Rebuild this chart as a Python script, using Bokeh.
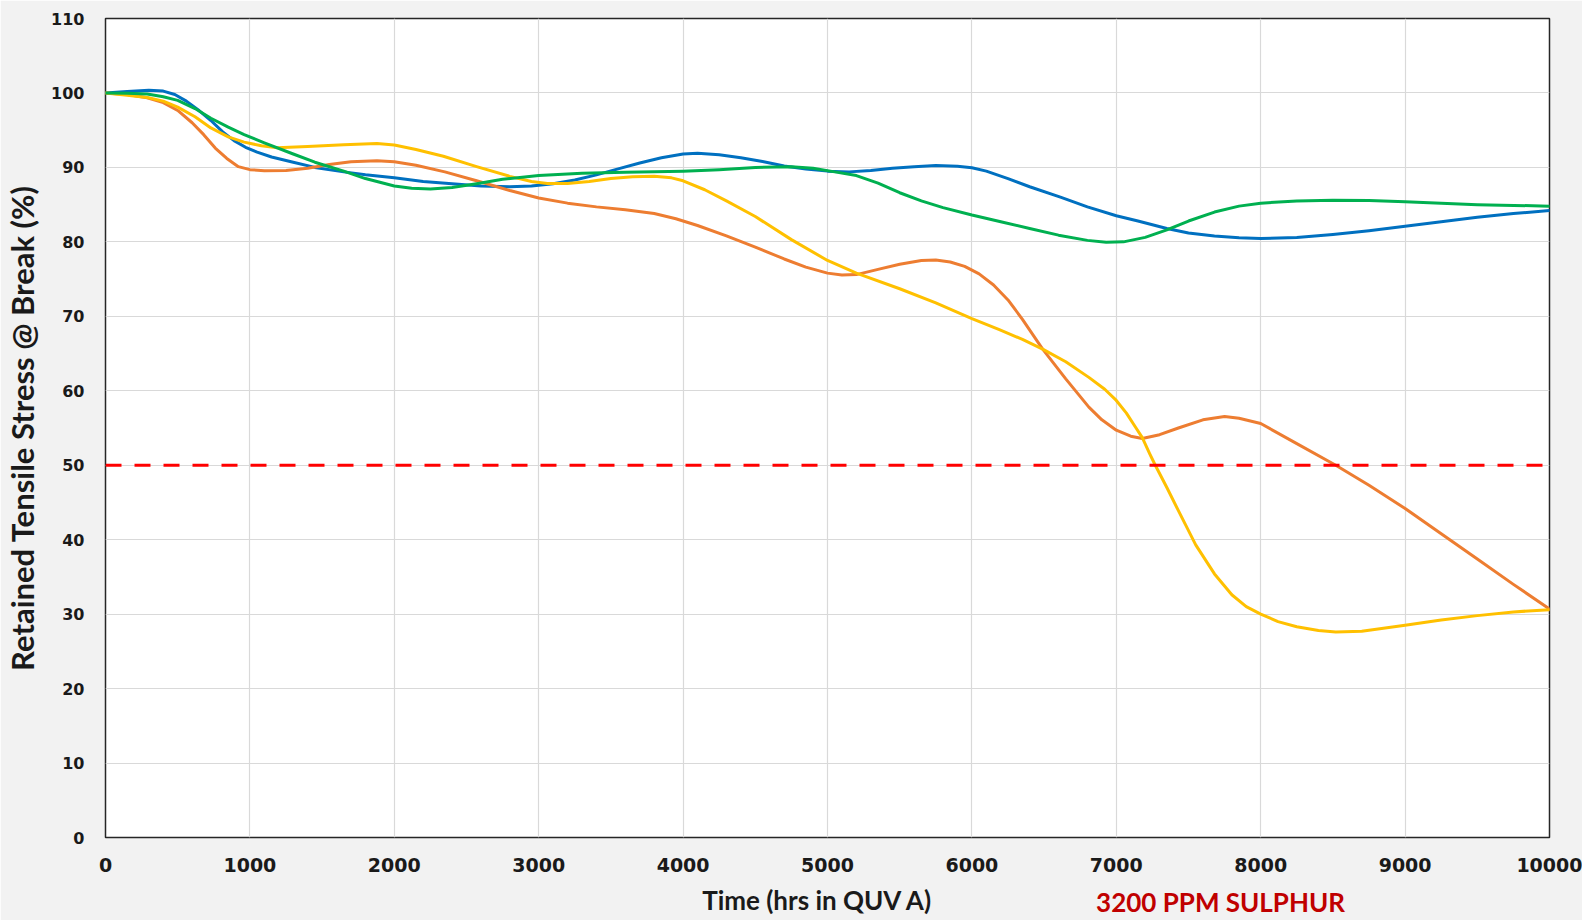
from bokeh.plotting import figure
from bokeh.models import Range1d, FixedTicker, Span, LinearAxis
from bokeh.embed import file_html
from bokeh.resources import INLINE

# ---------------- data ----------------
X_TICKS = [0, 1000, 2000, 3000, 4000, 5000, 6000, 7000, 8000, 9000, 10000]
Y_TICKS = [0, 10, 20, 30, 40, 50, 60, 70, 80, 90, 100, 110]
THRESHOLD = 50

blue_x = [0, 150, 300, 400, 480, 560, 650, 730, 810, 890, 970, 1050, 1150, 1300, 1450, 1650, 1800,
          2000, 2200, 2400, 2600, 2800, 2950, 3100, 3250, 3400, 3550, 3700, 3850, 4000, 4100, 4250,
          4400, 4550, 4700, 4850, 5000, 5150, 5300, 5450, 5600, 5750, 5900, 6000, 6100, 6250, 6400,
          6613, 6800, 7000, 7150, 7350, 7500, 7680, 7850, 8000, 8250, 8500, 8750, 9000, 9250, 9500,
          9750, 10000]
blue_y = [100, 100.2, 100.35, 100.25, 99.8, 98.9, 97.6, 96.3, 94.8, 93.6, 92.7, 92.05, 91.4, 90.7, 90.0,
          89.4, 89.0, 88.6, 88.1, 87.8, 87.5, 87.4, 87.5, 87.8, 88.3, 89.0, 89.8, 90.6, 91.3, 91.8, 91.9,
          91.7, 91.3, 90.8, 90.2, 89.8, 89.5, 89.4, 89.6, 89.9, 90.1, 90.25, 90.15, 89.95, 89.5, 88.5,
          87.4, 86.0, 84.7, 83.5, 82.8, 81.8, 81.2, 80.8, 80.55, 80.45, 80.6, 81.0, 81.5, 82.1, 82.7,
          83.3, 83.8, 84.2]

green_x = [0, 150, 289, 400, 500, 620, 730, 850, 960, 1100, 1300, 1450, 1650, 1800, 2000, 2120, 2250,
           2400, 2570, 2750, 3000, 3300, 3600, 4000, 4250, 4500, 4750, 4900, 5050, 5200, 5350, 5500,
           5650, 5800, 6000, 6200, 6400, 6600, 6800, 6930, 7050, 7200, 7350, 7500, 7680, 7850, 8000,
           8250, 8500, 8750, 9000, 9500, 10000]
green_y = [100, 99.95, 99.85, 99.5, 99.0, 97.9, 96.6, 95.4, 94.4, 93.3, 91.8, 90.7, 89.5, 88.5, 87.5,
           87.2, 87.1, 87.3, 87.8, 88.4, 88.9, 89.2, 89.35, 89.5, 89.7, 90.0, 90.1, 89.9, 89.4, 88.9,
           87.9, 86.6, 85.5, 84.6, 83.6, 82.7, 81.8, 80.9, 80.2, 79.95, 80.0, 80.6, 81.6, 82.8, 84.0,
           84.8, 85.2, 85.5, 85.6, 85.55, 85.4, 85.0, 84.8]

orange_x = [0, 150, 289, 400, 500, 600, 680, 760, 840, 920, 1000, 1100, 1250, 1400, 1550, 1700, 1880,
            2000, 2150, 2350, 2570, 2800, 3000, 3200, 3400, 3600, 3800, 3950, 4100, 4300, 4500, 4700,
            4850, 5000, 5100, 5200, 5350, 5500, 5650, 5750, 5850, 5950, 6050, 6150, 6250, 6350, 6490,
            6650, 6810, 6900, 7000, 7100, 7180, 7300, 7430, 7600, 7750, 7850, 8000, 8250, 8520, 8750,
            9000, 9250, 9500, 9750, 10000]
orange_y = [100, 99.8, 99.35, 98.7, 97.65, 96.0, 94.4, 92.6, 91.2, 90.1, 89.7, 89.55, 89.6, 89.9, 90.4,
            90.75, 90.9, 90.75, 90.3, 89.4, 88.2, 86.9, 85.9, 85.2, 84.7, 84.3, 83.8, 83.1, 82.2, 80.8,
            79.3, 77.7, 76.6, 75.8, 75.55, 75.6, 76.3, 77.0, 77.5, 77.55, 77.3, 76.7, 75.7, 74.2, 72.2,
            69.6, 65.6, 61.6, 57.8, 56.1, 54.7, 53.9, 53.6, 54.1, 55.0, 56.1, 56.55, 56.3, 55.6, 52.9,
            50.0, 47.3, 44.2, 40.8, 37.4, 34.0, 30.7]

yellow_x = [0, 150, 289, 400, 500, 620, 730, 850, 960, 1080, 1190, 1400, 1650, 1880, 2000, 2150, 2340,
            2570, 2800, 2950, 3060, 3200, 3350, 3500, 3650, 3800, 3920, 4000, 4150, 4300, 4500, 4750,
            5000, 5200, 5500, 5750, 6000, 6190, 6350, 6490, 6650, 6810, 6920, 7000, 7070, 7130, 7180,
            7230, 7270, 7350, 7430, 7550, 7680, 7800, 7900, 8000, 8120, 8250, 8400, 8520, 8700, 9000,
            9250, 9500, 9750, 10000]
yellow_y = [100, 99.7, 99.4, 98.9, 98.1, 96.8, 95.3, 94.1, 93.4, 92.9, 92.65, 92.8, 93.05, 93.2, 93.0,
            92.4, 91.5, 90.1, 88.8, 88.1, 87.85, 87.85, 88.1, 88.5, 88.75, 88.8, 88.6, 88.2, 87.0, 85.5,
            83.4, 80.3, 77.5, 75.8, 73.7, 71.8, 69.7, 68.2, 66.9, 65.6, 63.9, 61.8, 60.2, 58.7, 57.0,
            55.2, 53.7, 51.6, 50.0, 47.0, 43.9, 39.3, 35.4, 32.6, 31.0, 30.0, 29.0, 28.3, 27.8, 27.6,
            27.7, 28.5, 29.2, 29.8, 30.3, 30.6]

X_TITLE = "Time (hrs in QUV A)"
Y_TITLE = "Retained Tensile Stress @ Break (%)"
NOTE = "3200 PPM SULPHUR"

# layout constants (positions, not data)
X_TITLE_POS = 4931
NOTE_POS = 7722

# ---------------- figure ----------------
p = figure(width=1582, height=920, output_backend="svg", toolbar_location=None,
           x_range=Range1d(0, 10000), y_range=Range1d(0, 110),
           min_border_left=105, min_border_right=33, min_border_top=18, min_border_bottom=83)
p.border_fill_color = "#F2F2F2"
p.background_fill_color = "white"
p.outline_line_color = "#262626"
p.outline_line_width = 1.5

for ax in (p.xaxis[0], p.yaxis[0]):
    ax.axis_line_color = None
    ax.major_tick_line_color = None
    ax.minor_tick_line_color = None
    ax.major_label_text_font = "DejaVu Sans"
    ax.major_label_text_font_style = "bold"
    ax.major_label_text_color = "#1a1a1a"
    ax.axis_label_text_font = "Lato"
    ax.axis_label_text_font_style = "bold"
    ax.axis_label_text_color = "#1a1a1a"

p.xaxis[0].ticker = FixedTicker(ticks=X_TICKS)
p.yaxis[0].ticker = FixedTicker(ticks=Y_TICKS)
p.xaxis[0].major_label_text_font_size = "19px"
p.yaxis[0].major_label_text_font_size = "16px"
p.xaxis[0].major_label_standoff = 14
p.yaxis[0].major_label_standoff = 15

p.yaxis[0].axis_label = Y_TITLE
p.yaxis[0].axis_label_text_font_size = "31px"
p.yaxis[0].axis_label_standoff = 7


def text_axis(pos, text, color, standoff):
    ax = LinearAxis(ticker=FixedTicker(ticks=[pos]), major_label_overrides={pos: text})
    ax.axis_line_color = None
    ax.major_tick_line_color = None
    ax.minor_tick_line_color = None
    ax.major_label_text_font = "Lato"
    ax.major_label_text_font_style = "bold"
    ax.major_label_text_font_size = "26px"
    ax.major_label_text_line_height = 1.0
    ax.major_label_text_color = color
    ax.major_label_standoff = standoff
    return ax


p.add_layout(text_axis(X_TITLE_POS, X_TITLE, "#1a1a1a", 3), "below")
p.add_layout(text_axis(NOTE_POS, NOTE, "#C00000", -39), "below")

p.xgrid.ticker = FixedTicker(ticks=X_TICKS)
p.ygrid.ticker = FixedTicker(ticks=Y_TICKS)
p.xgrid.grid_line_color = "#D9D9D9"
p.ygrid.grid_line_color = "#D9D9D9"
p.xgrid.grid_line_width = 1.2
p.ygrid.grid_line_width = 1.2

p.add_layout(Span(location=THRESHOLD, dimension="width", line_color="#FF0000",
                  line_width=3, line_dash="16 13"))

series = [(blue_x, blue_y, "#0070C0"), (orange_x, orange_y, "#ED7D31"),
          (yellow_x, yellow_y, "#FFC000"), (green_x, green_y, "#00B050")]
for xs, ys, c in series:
    p.line(xs, ys, line_color=c, line_width=3, line_join="round", line_cap="round")

open("out.html", "w").write(file_html(p, INLINE))
